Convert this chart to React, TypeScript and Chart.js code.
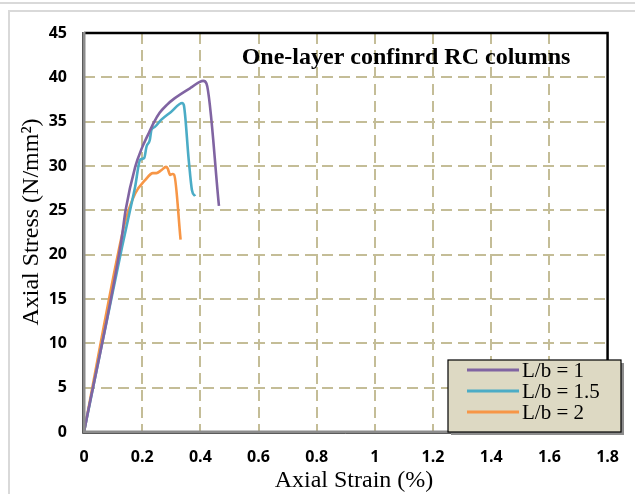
import React, { useEffect, useRef } from "react";
import { Chart, registerables } from "chart.js";

Chart.register(...registerables);

// Stress-strain curves for one-layer confined RC columns
const seriesLabels = ["L/b = 1", "L/b = 1.5", "L/b = 2"];
const seriesColors = ["#8064a2", "#4bacc6", "#f79646"];

const strainLb1 = [0, 0.128, 0.143, 0.176, 0.2, 0.221, 0.24, 0.26, 0.285, 0.31, 0.366, 0.41, 0.421, 0.464];
const stressLb1 = [0, 21.5, 25.0, 29.9, 32.1, 33.6, 34.9, 36.0, 36.9, 37.6, 38.8, 39.6, 39.3, 25.5];

const strainLb15 = [0, 0.131, 0.155, 0.176, 0.193, 0.207, 0.215, 0.226, 0.232, 0.243, 0.265, 0.299, 0.338, 0.343, 0.36, 0.371, 0.382];
const stressLb15 = [0, 20.9, 24.5, 27.7, 30.7, 30.9, 32.2, 32.9, 34.1, 34.4, 35.2, 36.1, 37.1, 36.9, 30.7, 27.3, 26.6];

const strainLb2 = [0, 0.115, 0.143, 0.176, 0.21, 0.237, 0.249, 0.265, 0.282, 0.288, 0.296, 0.304, 0.31, 0.332];
const stressLb2 = [0, 19.8, 23.9, 26.9, 28.4, 29.2, 29.2, 29.5, 29.9, 29.7, 29.0, 29.1, 29.0, 21.7];

const xTicks = [0, 0.2, 0.4, 0.6, 0.8, 1, 1.2, 1.4, 1.6, 1.8];
const yTicks = [0, 5, 10, 15, 20, 25, 30, 35, 40, 45];

const chartTitle = "One-layer confinrd RC columns";
const xTitle = "Axial Strain (%)";
const yTitle = "Axial Stress (N/mm²)";

const GRID = "#c4bd97";
const SERIF = "'Liberation Serif', 'Times New Roman', serif";
const SANS = "'Open Sans', 'Liberation Sans', sans-serif";

const toPoints = (xs: number[], ys: number[]) => xs.map((x, i) => ({ x, y: ys[i] }));

const decorations = {
  id: "decorations",
  beforeDraw(chart: any) {
    const ctx = chart.ctx;
    ctx.save();
    ctx.fillStyle = "#ffffff";
    ctx.fillRect(0, 0, chart.width, chart.height);
    // page frame
    ctx.strokeStyle = "#d9d9d9";
    ctx.lineWidth = 2;
    ctx.beginPath();
    ctx.moveTo(0, 3);
    ctx.lineTo(chart.width, 3);
    ctx.stroke();
    ctx.strokeRect(9, 11, chart.width + 10, chart.height + 10);
    ctx.restore();
  },
  afterDraw(chart: any) {
    const ctx = chart.ctx;
    const a = chart.chartArea;
    ctx.save();

    // plot border
    ctx.strokeStyle = "#000000";
    ctx.lineWidth = 2.5;
    ctx.beginPath();
    ctx.moveTo(a.left, a.top);
    ctx.lineTo(a.right, a.top);
    ctx.lineTo(a.right, a.bottom);
    ctx.stroke();

    // axis lines
    ctx.strokeStyle = "#8c8c8c";
    ctx.lineWidth = 3;
    ctx.beginPath();
    ctx.moveTo(a.left, a.top - 1);
    ctx.lineTo(a.left, a.bottom);
    ctx.lineTo(a.right + 1, a.bottom);
    ctx.stroke();
    ctx.strokeStyle = "#404040";
    ctx.lineWidth = 0.8;
    ctx.beginPath();
    ctx.moveTo(a.left - 1.5, a.top - 1);
    ctx.lineTo(a.left - 1.5, a.bottom + 1.5);
    ctx.lineTo(a.right + 1, a.bottom + 1.5);
    ctx.stroke();

    // chart title
    ctx.fillStyle = "#000000";
    ctx.font = `bold 24px ${SERIF}`;
    ctx.textAlign = "center";
    ctx.textBaseline = "alphabetic";
    ctx.fillText(chartTitle, 406, 64);

    // axis titles
    ctx.font = `24px ${SERIF}`;
    ctx.fillText(xTitle, 354, 487);
    ctx.save();
    ctx.translate(38, 222);
    ctx.rotate(-Math.PI / 2);
    ctx.fillText(yTitle, 0, 0);
    ctx.restore();

    // legend
    const lx = 448, ly = 360, lw = 173, lh = 72;
    ctx.fillStyle = "#8c8c8c";
    ctx.fillRect(lx + 3, ly + 3, lw, lh);
    ctx.fillStyle = "#ddd9c3";
    ctx.fillRect(lx, ly, lw, lh);
    ctx.strokeStyle = "#000000";
    ctx.lineWidth = 1.2;
    ctx.strokeRect(lx, ly, lw, lh);
    ctx.font = `21px ${SERIF}`;
    ctx.textAlign = "left";
    ctx.textBaseline = "middle";
    seriesLabels.forEach((lab, i) => {
      const y = 370 + i * 21;
      ctx.strokeStyle = seriesColors[i];
      ctx.lineWidth = 3;
      ctx.beginPath();
      ctx.moveTo(467, y);
      ctx.lineTo(519, y);
      ctx.stroke();
      ctx.fillStyle = "#000000";
      ctx.fillText(lab, 522, y + 1);
    });

    ctx.restore();
  },
};

export default function App() {
  const canvasRef = useRef<HTMLCanvasElement | null>(null);

  useEffect(() => {
    if (!canvasRef.current) return;
    const chart = new Chart(canvasRef.current, {
      type: "line",
      data: {
        datasets: [
          { label: seriesLabels[0], data: toPoints(strainLb1, stressLb1) },
          { label: seriesLabels[1], data: toPoints(strainLb15, stressLb15) },
          { label: seriesLabels[2], data: toPoints(strainLb2, stressLb2) },
        ].map((d, i) => ({
          ...d,
          borderColor: seriesColors[i],
          backgroundColor: seriesColors[i],
          borderWidth: 2.6,
          pointRadius: 0,
          cubicInterpolationMode: "monotone" as const,
          borderJoinStyle: "round" as const,
          fill: false,
        })),
      },
      options: {
        animation: false,
        responsive: false,
        devicePixelRatio: 1,
        layout: { padding: { left: 0, right: 12, top: 33, bottom: 0 } },
        plugins: { legend: { display: false }, title: { display: false }, tooltip: { enabled: false } },
        scales: {
          x: {
            type: "linear",
            min: 0,
            max: 1.8,
            afterBuildTicks: (s: any) => {
              s.ticks = xTicks.map((v) => ({ value: v }));
            },
            afterFit: (s: any) => {
              s.height = 62;
            },
            border: { display: false, dash: [11, 6] },
            grid: {
              drawTicks: false,
              color: (c: any) => (c.tick && (c.tick.value === 0 || c.tick.value === 1.8) ? "rgba(0,0,0,0)" : GRID),
              lineWidth: 2,
            },
            ticks: {
              padding: 16,
              color: "#000000",
              font: { family: SANS, size: 16, weight: 700 },
              maxRotation: 0,
              callback: (v: any) => String(v),
            },
          },
          y: {
            type: "linear",
            min: 0,
            max: 45,
            afterBuildTicks: (s: any) => {
              s.ticks = yTicks.map((v) => ({ value: v }));
            },
            afterFit: (s: any) => {
              s.width = 84;
            },
            border: { display: false, dash: [11, 6] },
            grid: {
              drawTicks: false,
              color: (c: any) => (c.tick && (c.tick.value === 0 || c.tick.value === 45) ? "rgba(0,0,0,0)" : GRID),
              lineWidth: 2,
            },
            ticks: {
              padding: 17,
              color: "#000000",
              font: { family: SANS, size: 16, weight: 700 },
              callback: (v: any) => String(v),
            },
          },
        },
      },
      plugins: [decorations],
    });
    return () => chart.destroy();
  }, []);

  return (
    <div style={{ position: "absolute", left: 0, top: 0, width: 635, height: 494, background: "#fff" }}>
      <canvas ref={canvasRef} width={635} height={494} style={{ width: 635, height: 494, display: "block" }} />
    </div>
  );
}
